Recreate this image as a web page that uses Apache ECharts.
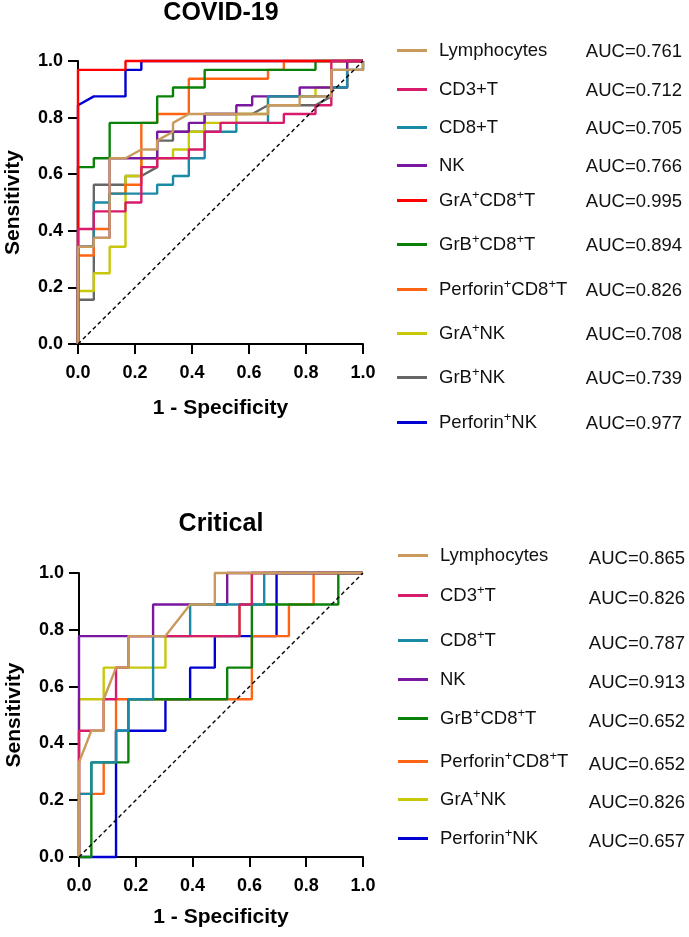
<!DOCTYPE html>
<html>
<head>
<meta charset="utf-8">
<script src="https://cdn.jsdelivr.net/npm/echarts@6/dist/echarts.min.js"></script>
<style>
  html, body { margin: 0; padding: 0; background: #fff; }
  #rocChart { width: 689px; height: 937px; }
</style>
</head>
<body>
<div id="rocChart"></div>
<script>
  // ROC steps stored as [false positives, true positives] counts
  const covidControls = 18;
  const covidCases = 32;
  const covidNames = ['Lymphocytes', 'CD3+T', 'CD8+T', 'NK', 'GrA⁺CD8⁺T', 'GrB⁺CD8⁺T',
    'Perforin⁺CD8⁺T', 'GrA⁺NK', 'GrB⁺NK', 'Perforin⁺NK'];
  const covidAuc = ['0.761', '0.712', '0.705', '0.766', '0.995', '0.894', '0.826', '0.708', '0.739', '0.977'];

  const covidLymphocytes = [[0,0],[0,11],[1,11],[1,12],[2,12],[2,21],[3,21],[4,22],[5,22],[5,23],[6,24],[6,25],[7,26],[12,26],[12,27],[14,27],[14,28],[16,28],[16,31],[18,31],[18,32]];
  const covidCd3 = [[0,0],[0,13],[1,13],[1,15],[3,15],[3,16],[4,16],[4,20],[5,20],[5,21],[7,21],[7,22],[8,22],[8,24],[9,24],[9,25],[13,25],[13,26],[15,26],[15,27],[16,27],[16,32],[18,32]];
  const covidCd8 = [[0,0],[0,11],[1,11],[1,16],[2,16],[2,17],[5,17],[5,18],[6,18],[6,19],[7,19],[7,21],[8,21],[8,24],[10,24],[10,25],[12,25],[12,28],[16,28],[16,29],[17,29],[17,31],[18,31],[18,32]];
  const covidNk = [[0,0],[0,11],[1,11],[1,12],[2,12],[2,21],[5,21],[5,24],[7,24],[7,25],[8,25],[8,26],[10,26],[10,27],[11,27],[11,28],[14,28],[14,29],[17,29],[17,32],[18,32]];
  const covidGraCd8 = [[0,0],[0,31],[3,31],[3,32],[18,32]];
  const covidGrbCd8 = [[0,0],[0,20],[1,20],[1,21],[2,21],[2,25],[5,25],[5,28],[6,28],[6,29],[8,29],[8,31],[15,31],[15,32],[18,32]];
  const covidPerfCd8 = [[0,0],[0,10],[1,10],[1,13],[2,13],[2,17],[3,17],[3,18],[4,18],[4,25],[5,25],[5,26],[7,26],[7,30],[12,30],[12,31],[13,31],[13,32],[18,32]];
  const covidGraNk = [[0,0],[0,6],[1,6],[1,8],[2,8],[2,11],[3,11],[3,19],[4,19],[4,21],[6,21],[6,22],[7,22],[7,24],[8,24],[8,25],[10,25],[10,26],[12,26],[12,28],[15,28],[15,29],[17,29],[17,32],[18,32]];
  const covidGrbNk = [[0,0],[0,5],[1,5],[1,18],[3,18],[3,19],[4,19],[5,20],[5,23],[6,23],[6,24],[8,24],[8,26],[11,26],[12,27],[15,27],[16,28],[16,31],[18,31],[18,32]];
  const covidPerfNk = [[0,0],[0,27],[1,28],[3,28],[3,31],[4,31],[4,32],[18,32]];

  const criticalControls = 23;
  const criticalCases = 9;
  const criticalNames = ['Lymphocytes', 'CD3⁺T', 'CD8⁺T', 'NK', 'GrB⁺CD8⁺T', 'Perforin⁺CD8⁺T', 'GrA⁺NK', 'Perforin⁺NK'];
  const criticalAuc = ['0.865', '0.826', '0.787', '0.913', '0.652', '0.652', '0.826', '0.657'];

  const critLymphocytes = [[0,0],[0,3],[1,4],[2,4],[2,5],[3,6],[4,6],[4,7],[7,7],[9,8],[11,8],[11,9],[23,9]];
  const critCd3 = [[0,0],[0,4],[2,4],[2,5],[3,5],[3,6],[4,6],[4,7],[13,7],[13,8],[14,8],[14,9],[23,9]];
  const critCd8 = [[0,0],[0,2],[1,2],[1,3],[3,3],[3,4],[4,4],[4,5],[6,5],[6,7],[9,7],[9,8],[15,8],[15,9],[23,9]];
  const critNk = [[0,0],[0,7],[6,7],[6,8],[12,8],[12,9],[23,9]];
  const critGrbCd8 = [[0,0],[1,0],[1,3],[4,3],[4,5],[12,5],[12,6],[14,6],[14,8],[21,8],[21,9],[23,9]];
  const critPerfCd8 = [[0,0],[0,2],[2,2],[2,3],[3,3],[3,5],[14,5],[14,7],[17,7],[17,8],[19,8],[19,9],[23,9]];
  const critGraNk = [[0,0],[0,5],[2,5],[2,6],[7,6],[7,7],[13,7],[13,8],[14,8],[14,9],[23,9]];
  const critPerfNk = [[0,0],[3,0],[3,4],[7,4],[7,5],[9,5],[9,6],[11,6],[11,7],[16,7],[16,9],[23,9]];

  const tickValues = [0, 0.2, 0.4, 0.6, 0.8, 1.0];

  const covidCurves = [covidLymphocytes, covidCd3, covidCd8, covidNk, covidGraCd8, covidGrbCd8,
    covidPerfCd8, covidGraNk, covidGrbNk, covidPerfNk];
  const covidColors = ['#C99A5B', '#D81B6A', '#1A8AA6', '#7A17A0', '#FF0000', '#0A820A',
    '#FF6414', '#C8C80A', '#666666', '#0000D2'];
  const criticalCurves = [critLymphocytes, critCd3, critCd8, critNk, critGrbCd8, critPerfCd8, critGraNk, critPerfNk];
  const criticalColors = ['#C99A5B', '#D81B6A', '#1A8AA6', '#7A17A0', '#0A820A', '#FF6414', '#C8C80A', '#0000D2'];

  // legend row centres (px) - rows are not evenly spaced in the original
  const covidLegendY = [47, 86, 124, 162, 196, 240, 285, 329, 373, 418];
  const criticalLegendY = [552, 592, 637, 676, 715, 758, 796, 835];

  const font = 'Liberation Sans, Arial, sans-serif';
  const chart = echarts.init(document.getElementById('rocChart'));

  function axisBase(gridIndex) {
    return {
      type: 'value', gridIndex: gridIndex,
      min: tickValues[0], max: tickValues[tickValues.length - 1], interval: 0.2,
      nameLocation: 'middle',
      nameTextStyle: { fontFamily: font, fontSize: 21, fontWeight: 'bold', color: '#000' },
      axisLine: { onZero: false, lineStyle: { color: '#000', width: 2 } },
      axisTick: { length: 10, lineStyle: { color: '#000', width: 2 } },
      axisLabel: {
        fontFamily: font, fontSize: 18, fontWeight: 'bold', color: '#000',
        formatter: v => v.toFixed(1)
      },
      splitLine: { show: false }
    };
  }

  function xAxis(gridIndex, gap) {
    const a = axisBase(gridIndex);
    a.name = '1 - Specificity';
    a.nameGap = gap;
    a.axisLabel.margin = 20;
    return a;
  }

  function yAxis(gridIndex) {
    const a = axisBase(gridIndex);
    a.name = 'Sensitivity';
    a.nameGap = 54;
    a.axisLabel.margin = 15;
    return a;
  }

  function curveSeries(curves, names, colors, controls, cases, idx) {
    const list = [];
    // first legend entry ends up on top, so draw in reverse
    for (let k = curves.length - 1; k >= 0; k--) {
      list.push({
        type: 'line', name: names[k], xAxisIndex: idx, yAxisIndex: idx,
        data: curves[k].map(p => [p[0] / controls, p[1] / cases]),
        symbol: 'none', clip: false, silent: true,
        itemStyle: { color: colors[k] },
        lineStyle: { color: colors[k], width: 2.4 }
      });
    }
    list.push({
      type: 'line', xAxisIndex: idx, yAxisIndex: idx,
      data: [[0, 0], [1, 1]], symbol: 'none', silent: true, z: 5,
      lineStyle: { color: '#000', width: 1.4, type: [4, 3] }
    });
    return list;
  }

  function legendRows(names, aucs, rowsY, left, width, aucShift) {
    return names.map((name, k) => ({
      data: [name],
      left: left, top: rowsY[k] - (22 + aucShift) / 2,
      orient: 'vertical', selectedMode: false,
      icon: 'rect', itemWidth: 30, itemHeight: 3,
      formatter: n => n.split('⁺').map(p => '{n|' + p + '}').join('{sup|+}') + '{auc|AUC=' + aucs[k] + '}',
      textStyle: {
        width: width, padding: [0, 0, 0, 7],
        rich: {
          n: { fontFamily: font, fontSize: 18.5, color: '#111', lineHeight: 22 },
          sup: { fontFamily: font, fontSize: 13, color: '#111', padding: [0, 0, 10, 0] },
          auc: { fontFamily: font, fontSize: 18.5, color: '#111', lineHeight: 22, align: 'right', padding: [aucShift, 0, 0, 0] }
        }
      }
    }));
  }

  const option = {
    animation: false,
    backgroundColor: '#fff',
    title: [
      { text: 'COVID-19', left: 221, top: 1, textAlign: 'center', padding: 0,
        textStyle: { fontFamily: font, fontSize: 25, fontWeight: 'bold', color: '#000' } },
      { text: 'Critical', left: 221, top: 512, textAlign: 'center', padding: 0,
        textStyle: { fontFamily: font, fontSize: 25, fontWeight: 'bold', color: '#000' } }
    ],
    grid: [
      { left: 78, top: 61, width: 285, height: 283 },
      { left: 79, top: 573, width: 284, height: 284 }
    ],
    xAxis: [xAxis(0, 54), xAxis(1, 50)],
    yAxis: [yAxis(0), yAxis(1)],
    legend: legendRows(covidNames, covidAuc, covidLegendY, 392, 243, 2)
      .concat(legendRows(criticalNames, criticalAuc, criticalLegendY, 393, 245, 7)),
    series: curveSeries(covidCurves, covidNames, covidColors, covidControls, covidCases, 0)
      .concat(curveSeries(criticalCurves, criticalNames, criticalColors, criticalControls, criticalCases, 1))
  };

  chart.setOption(option);
  window.addEventListener('resize', () => { chart.resize(); });
</script>
</body>
</html>
